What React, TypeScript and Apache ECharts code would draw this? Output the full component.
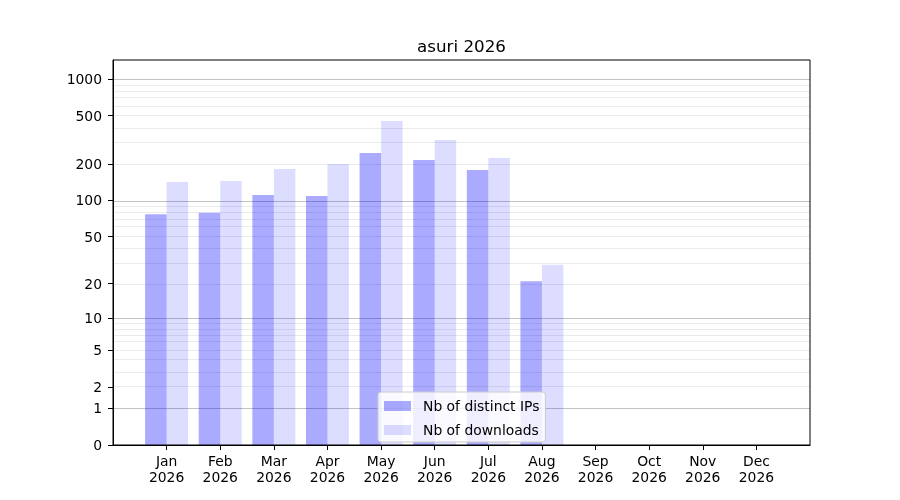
import React, { useEffect, useRef } from "react";
import * as echarts from "echarts";

const months = ["Jan", "Feb", "Mar", "Apr", "May", "Jun", "Jul", "Aug", "Sep", "Oct", "Nov", "Dec"];
const year = "2026";
const distinctIPs: (number | null)[] = [77, 79, 111, 109, 246, 216, 178, 21, null, null, null, null];
const downloads: (number | null)[] = [142, 145, 182, 200, 452, 315, 224, 29, null, null, null, null];
const yTickValues = [0, 1, 2, 5, 10, 20, 50, 100, 200, 500, 1000];
const majorGridValues = [1, 10, 100, 1000];
const minorGridValues = [2, 3, 4, 5, 6, 7, 8, 9, 20, 30, 40, 50, 60, 70, 80, 90, 200, 300, 400, 500, 600, 700, 800, 900];
const yMaxRaw = 1429;

const f = (v: number) => Math.log10(1 + v);
const FONT = "DejaVu Sans";

export default function App() {
  const ref = useRef<HTMLDivElement>(null);
  useEffect(() => {
    if (!ref.current) return;
    const chart = echarts.init(ref.current, null, { renderer: "svg" });
    const categories = ["", ...months.map((m) => `${m}\n${year}`), ""];
    const pad = (arr: (number | null)[]) => [null, ...arr.map((v) => (v == null ? null : f(v))), null];
    const gridLines = [
      ...minorGridValues.map((v) => ({ yAxis: f(v), lineStyle: { color: "#ebebeb", width: 1, type: "solid" } })),
      ...majorGridValues.map((v) => ({ yAxis: f(v), lineStyle: { color: "#c2c2c2", width: 1, type: "solid" } })),
    ];
    chart.setOption({
      animation: false,
      title: {
        text: "asuri 2026",
        left: 461.5,
        textAlign: "center",
        top: 37.5,
        padding: 0,
        textStyle: { fontFamily: FONT, fontSize: 16.7, fontWeight: "normal", color: "#000" },
      },
      grid: {
        left: 113,
        right: 90,
        top: 60,
        bottom: 55,
        show: true,
        z: 5,
        borderColor: "#000",
        borderWidth: 1,
        backgroundColor: "transparent",
      },
      legend: {
        orient: "vertical",
        left: 378,
        top: 392,
        padding: [7, 6, 5, 6],
        itemWidth: 27,
        itemHeight: 10,
        itemGap: 10,
        icon: "rect",
        backgroundColor: "rgba(255,255,255,0.8)",
        borderColor: "#cccccc",
        borderWidth: 1,
        borderRadius: 3,
        z: 10,
        textStyle: { fontFamily: FONT, fontSize: 13.9, color: "#000", padding: [0, 0, 0, 7] },
        data: ["Nb of distinct IPs", "Nb of downloads"],
      },
      xAxis: {
        type: "category",
        data: categories,
        boundaryGap: false,
        z: 6,
        axisLine: { show: true, lineStyle: { color: "#000", width: 1 } },
        axisTick: {
          show: true,
          length: 5,
          interval: (index: number) => index > 0 && index < categories.length - 1,
          lineStyle: { color: "#000" },
        },
        axisLabel: {
          interval: 0,
          margin: 8,
          fontFamily: FONT,
          fontSize: 13.9,
          lineHeight: 16.3,
          color: "#000",
        },
        splitLine: { show: false },
      },
      yAxis: {
        type: "value",
        min: 0,
        max: f(yMaxRaw),
        z: 6,
        axisLine: { show: true, lineStyle: { color: "#000", width: 1 } },
        axisTick: {
          show: true,
          length: 5,
          customValues: yTickValues.map(f),
          lineStyle: { color: "#000" },
        },
        axisLabel: {
          customValues: yTickValues.map(f),
          formatter: (v: number) => String(Math.round(Math.pow(10, v) - 1)),
          margin: 11,
          fontFamily: FONT,
          fontSize: 13.9,
          color: "#000",
        },
        splitLine: { show: false },
      },
      series: [
        {
          name: "Nb of distinct IPs",
          type: "bar",
          data: pad(distinctIPs),
          barWidth: 21.5,
          barGap: "0%",
          z: 2,
          itemStyle: { color: "rgba(0,0,255,0.333)" },
          markLine: {
            z: 1,
            silent: true,
            symbol: ["none", "none"],
            label: { show: false },
            emphasis: { disabled: true },
            data: gridLines,
          },
        },
        {
          name: "Nb of downloads",
          type: "bar",
          data: pad(downloads),
          barWidth: 21.5,
          barGap: "0%",
          z: 2,
          itemStyle: { color: "rgba(0,0,255,0.133)" },
        },
      ],
    });
    return () => chart.dispose();
  }, []);
  return <div ref={ref} style={{ position: "fixed", left: 0, top: 0, width: 900, height: 500 }} />;
}
